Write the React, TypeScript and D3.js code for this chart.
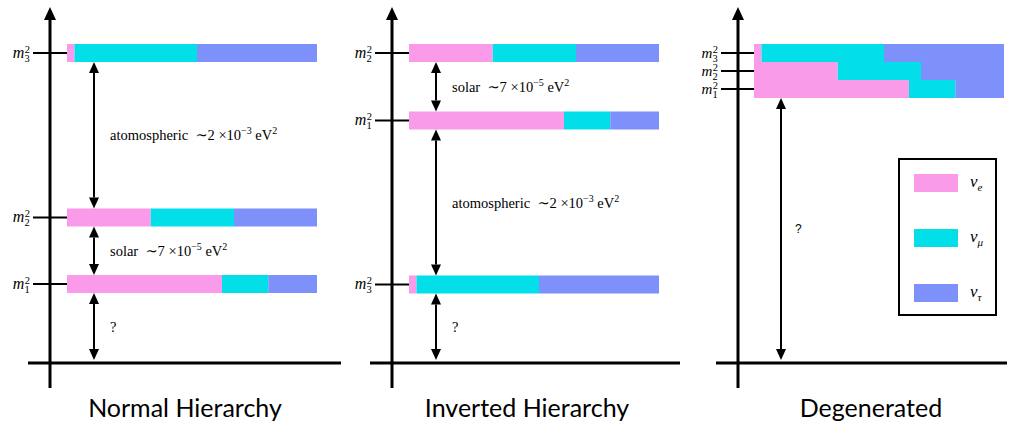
import React from "react";
import * as d3 from "d3";

// flavour names and colours
const flavors = ["e", "μ", "τ"];
const flavorColors = ["#f99be9", "#03dfe9", "#7e90fa"];

// flavour content of mass states m1, m2, m3 (nu_e, nu_mu, nu_tau)
const mixing = [
  [0.62, 0.185, 0.195],
  [0.335, 0.333, 0.332],
  [0.03, 0.49, 0.48],
];

// m^2 level of m1, m2, m3 in each scheme (arbitrary units)
const normalLevels = [79, 145.5, 310];
const invertedLevels = [242.5, 310, 78.5];
const degenLevels = [274, 292, 310];

// gaps marked with a double arrow: [upper state, lower state, label]; -1 = ground
const normalGaps = [
  [2, 1, "atmospheric"],
  [1, 0, "solar"],
  [0, -1, "?"],
];
const invertedGaps = [
  [1, 0, "solar"],
  [0, 2, "atmospheric"],
  [2, -1, "?"],
];
const degenGaps = [[0, -1, "?"]];

const titles = ["Normal Hierarchy", "Inverted Hierarchy", "Degenerated"];

const W = 1017;
const H = 425;
const BAR_H = 18;
const serif = "'Liberation Serif', 'DejaVu Serif', serif";

const y = d3.scaleLinear().domain([0, 310]).range([363, 53]);

const Label = ({ kind }) => {
  if (kind === "atmospheric")
    return (
      <>
        atomospheric {"\u00a0"}∼2 ×10
        <tspan dy={-6} fontSize={10}>−3</tspan>
        <tspan dy={6}> eV</tspan>
        <tspan dy={-6} fontSize={10}>2</tspan>
      </>
    );
  if (kind === "solar")
    return (
      <>
        solar {"\u00a0"}∼7 ×10
        <tspan dy={-6} fontSize={10}>−5</tspan>
        <tspan dy={6}> eV</tspan>
        <tspan dy={-6} fontSize={10}>2</tspan>
      </>
    );
  return <>?</>;
};

const DoubleArrow = ({ x, y1, y2 }) => {
  const h = 11;
  const w = 5;
  return (
    <g>
      <line x1={x} x2={x} y1={y1 + h} y2={y2 - h} stroke="#000" strokeWidth={2} />
      <path d={`M${x},${y1}L${x - w},${y1 + h}L${x + w},${y1 + h}Z`} fill="#000" />
      <path d={`M${x},${y2}L${x - w},${y2 - h}L${x + w},${y2 - h}Z`} fill="#000" />
    </g>
  );
};

const Panel = ({ axisX, barX0, axisEnd, levels, gaps, title, titleX, stacked }) => {
  const x = d3.scaleLinear().domain([0, 1]).range([barX0, barX0 + 250]);
  const arrowX = x(0.108);
  const top = (i) => y(levels[i]) - BAR_H / 2;
  const bottom = (i) => (i < 0 ? y(0) : y(levels[i]) + BAR_H / 2);
  return (
    <g>
      {/* axes */}
      <line x1={axisX} x2={axisX} y1={388} y2={18} stroke="#000" strokeWidth={3} />
      <path d={`M${axisX},7L${axisX - 6},20L${axisX + 6},20Z`} fill="#000" />
      <line x1={axisX - 22} x2={axisEnd} y1={y(0)} y2={y(0)} stroke="#000" strokeWidth={3} />

      {/* mass levels */}
      {levels.map((lv, i) => {
        const cum = d3.cumsum(mixing[i]);
        const yc = y(lv);
        return (
          <g key={i}>
            <line x1={axisX - 17} x2={barX0} y1={yc} y2={yc} stroke="#000" strokeWidth={2} />
            {mixing[i].map((f, j) => (
              <rect
                key={j}
                x={x(cum[j] - f)}
                width={x(cum[j]) - x(cum[j] - f)}
                y={yc - BAR_H / 2}
                height={BAR_H}
                fill={flavorColors[j]}
              />
            ))}
            <text
              x={axisX - 20}
              y={yc}
              dy="0.3em"
              textAnchor="end"
              fontFamily={serif}
              fontSize={stacked ? 15 : 16}
            >
              <tspan fontStyle="italic">m</tspan>
              <tspan dx={0.5} dy={-5} fontSize={10.5}>2</tspan>
              <tspan dx={-5.5} dy={9} fontSize={10.5}>{i + 1}</tspan>
            </text>
          </g>
        );
      })}

      {/* gaps */}
      {gaps.map(([hi, lo, kind], k) => {
        const y1 = bottom(hi);
        const y2 = lo < 0 ? y(0) - 3 : top(lo);
        return (
          <g key={k}>
            <DoubleArrow x={arrowX} y1={y1} y2={y2} />
            <text
              x={arrowX + (stacked ? 14 : 16)}
              y={(y1 + y2) / 2}
              dy="0.35em"
              fill="#000"
              fontFamily={kind === "?" && stacked ? "'Liberation Sans', sans-serif" : serif}
              fontSize={kind === "?" && stacked ? 12 : 14.5}
            >
              <Label kind={kind} />
            </text>
          </g>
        );
      })}

      <text
        x={titleX}
        y={417}
        textAnchor="middle"
        fontFamily="Lato, 'Open Sans', sans-serif"
        fontSize={25}
      >
        {title}
      </text>
    </g>
  );
};

const Legend = () => {
  const ly = d3.scalePoint().domain(flavors).range([183, 293]);
  return (
    <g>
      <rect x={899} y={159} width={97} height={156} fill="#fff" stroke="#000" strokeWidth={2} />
      {flavors.map((f, i) => (
        <g key={f}>
          <rect x={914} y={ly(f) - 9} width={44} height={18} fill={flavorColors[i]} />
          <text x={970} y={ly(f)} dy="0.25em" fontFamily={serif} fontSize={17}>
            <tspan fontStyle="italic">ν</tspan>
            <tspan dy={4} fontSize={11} fontStyle="italic">{f}</tspan>
          </text>
        </g>
      ))}
    </g>
  );
};

export default function App() {
  return (
    <svg
      width={W}
      height={H}
      style={{ position: "absolute", left: 0, top: 0, background: "#fff" }}
    >
      <Panel
        axisX={50}
        barX0={67}
        axisEnd={341}
        levels={normalLevels}
        gaps={normalGaps}
        title={titles[0]}
        titleX={185}
      />
      <Panel
        axisX={392}
        barX0={409}
        axisEnd={680}
        levels={invertedLevels}
        gaps={invertedGaps}
        title={titles[1]}
        titleX={527}
      />
      <Panel
        axisX={738}
        barX0={754}
        axisEnd={1007}
        levels={degenLevels}
        gaps={degenGaps}
        title={titles[2]}
        titleX={871}
        stacked
      />
      <Legend />
    </svg>
  );
}
